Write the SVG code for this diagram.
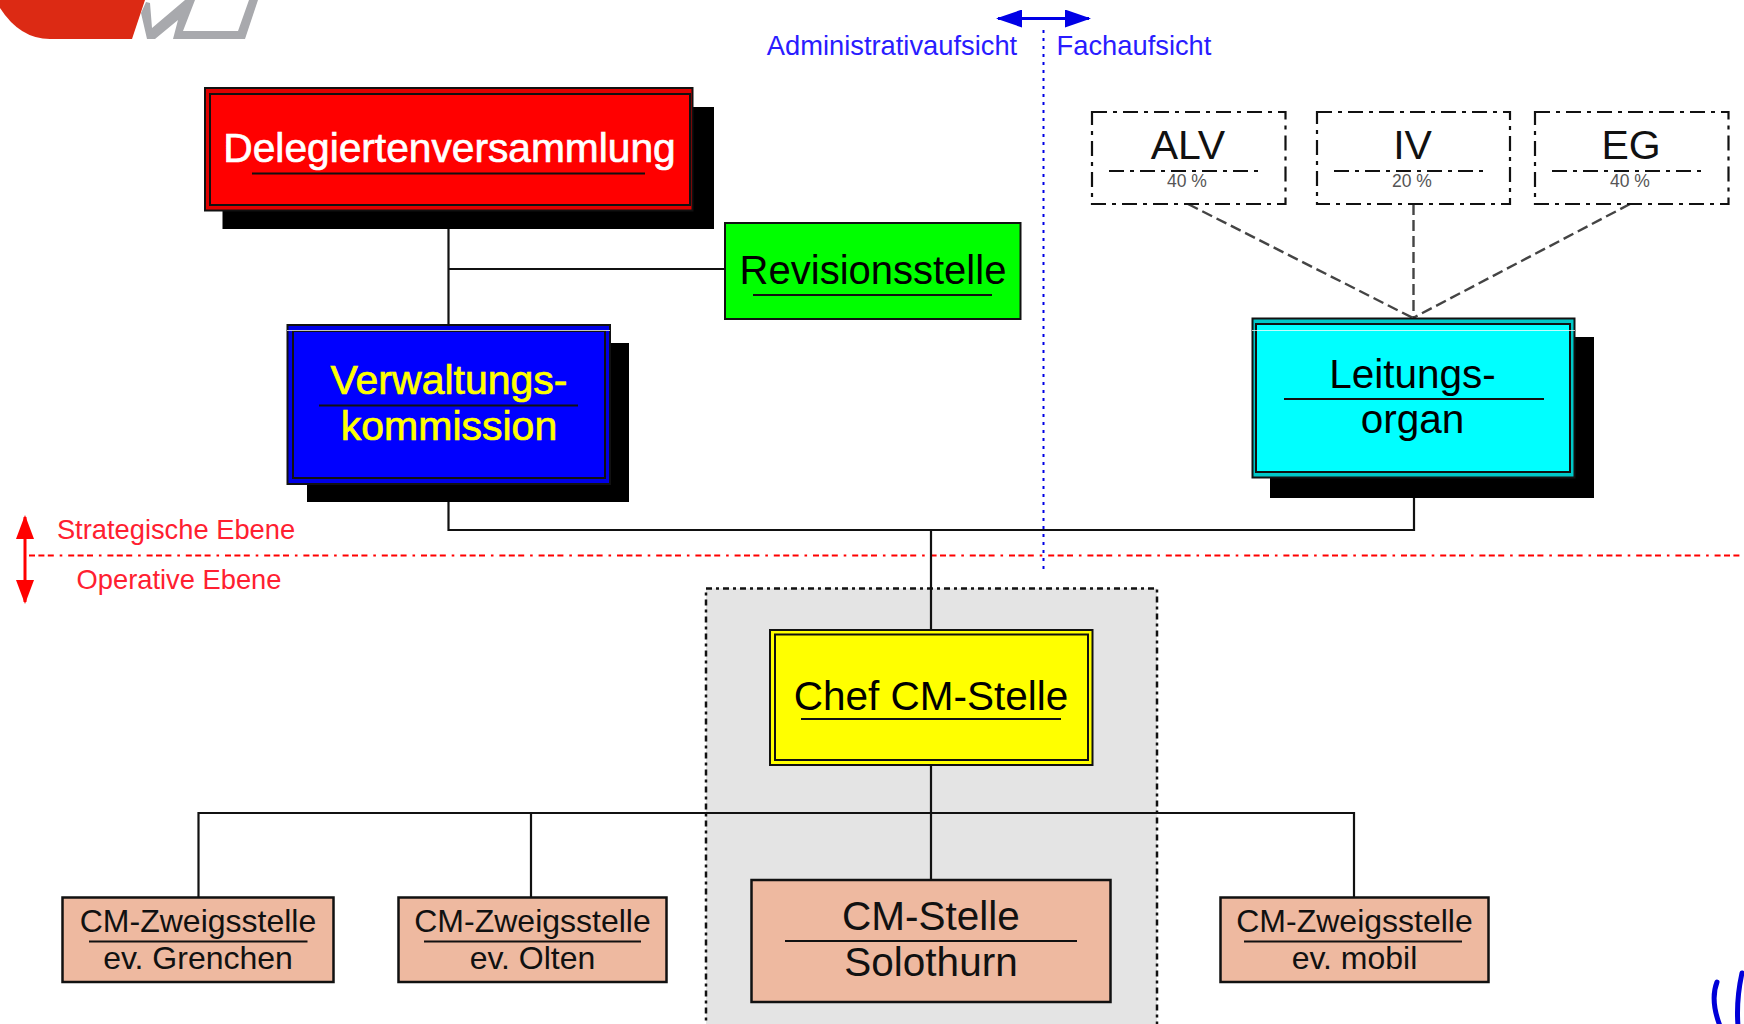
<svg xmlns="http://www.w3.org/2000/svg" width="1744" height="1024" viewBox="0 0 1744 1024">
<style>
text{font-family:"Liberation Sans",Arial,sans-serif;text-anchor:middle}
.t40{font-size:40.500px}
.t33{font-size:32px;fill:#111}
.t27{font-size:27.300px}
.t39{font-size:41px;fill:#111}
.pct{font-size:17.500px;fill:#555}
.blue{fill:#2a1cff}
.red{fill:#ff2030}
.line{stroke:#111;stroke-width:2.200;fill:none}
.frame{stroke:#111;stroke-width:2}
.inner{stroke:#111;stroke-width:2}
.rule{stroke:#111;stroke-width:2.200}
.shadow{fill:#000}
.dashdot{fill:#fff;stroke:#111;stroke-width:2.200;stroke-dasharray:15 6 4 6}
.ruledash{stroke:#111;stroke-width:2.200;stroke-dasharray:15 6 4 6}
.dash{stroke:#444;stroke-width:2.400;stroke-dasharray:11 5;fill:none}
.salmon{fill:#eeb9a0;stroke:#111;stroke-width:2.500}
.glint{stroke:#fff;stroke-width:1;opacity:.75}
.heavy-w{fill:#fff;stroke:#fff;stroke-width:.7}
.heavy-y{fill:#ffff00;stroke:#ffff00;stroke-width:.7}
</style>
<defs>
<marker id="bh" viewBox="0 0 26 18" refX="24" refY="9" markerWidth="26" markerHeight="18" markerUnits="userSpaceOnUse" orient="auto-start-reverse"><path d="M0 0L26 9L0 18Z" fill="#0000e6"/></marker>
<marker id="rh" viewBox="0 0 24 18" refX="22" refY="9" markerWidth="24" markerHeight="18" markerUnits="userSpaceOnUse" orient="auto-start-reverse"><path d="M0 0L24 9L0 18Z" fill="#ff0000"/></marker>
</defs>
<rect width="1744" height="1024" fill="#fff"/>
<g id="logo">
<path d="M0 8Q20 39 50 39L132 39L145 0L0 0Z" fill="#dc2a14"/>
<path d="M146 2L141 13L147 39L155 39L178 20L173 39L245 39L258 0L249 0L238 31L183 31L195 0L185 0L152 28L150 3Z" fill="#a8a9ad"/>
</g>
<rect id="gray-area" x="706" y="588.500" width="451" height="450" fill="#e4e4e4" stroke="#111" stroke-width="2.500" stroke-dasharray="6 4 3 4"/>
<g id="axes">
<line x1="1043.500" y1="30" x2="1043.500" y2="572" stroke="#0000e6" stroke-width="2" stroke-dasharray="3 5"/>
<line x1="29" y1="555.500" x2="1744" y2="555.500" stroke="#ff0000" stroke-width="2.200" stroke-dasharray="6 3.400 6 3.400 6 5.900 2.600 5.900"/>
<line x1="998" y1="18.500" x2="1089" y2="18.500" stroke="#0000e6" stroke-width="3" marker-start="url(#bh)" marker-end="url(#bh)"/>
<line x1="25" y1="517" x2="25" y2="602" stroke="#ff0000" stroke-width="3" marker-start="url(#rh)" marker-end="url(#rh)"/>
<text class="t27 blue" x="892" y="54.500">Administrativaufsicht</text>
<text class="t27 blue" x="1134" y="54.500">Fachaufsicht</text>
<text class="t27 red" x="176" y="539">Strategische Ebene</text>
<text class="t27 red" x="179" y="589">Operative Ebene</text>
</g>
<g id="connectors">
<path class="line" d="M448.500 229V325M448.500 269H725"/>
<path class="line" d="M448.500 502V530H1414V498M931 530V630M931 765V880"/>
<path class="line" d="M198.500 897V813H1354V897M531 813V897"/>
<path class="dash" d="M1188 204L1413 318M1413.500 204V318M1630 204L1413 318"/>
</g>
<g id="delegiertenversammlung">
<rect class="shadow" x="222.500" y="107" width="491.500" height="122"/>
<rect class="frame" x="205" y="88" width="487.500" height="122.500" fill="#e00000"/>
<rect class="inner" x="210" y="94" width="480" height="111" fill="#ff0000"/>
<text x="449.500" y="162" font-size="40.700" class="heavy-w">Delegiertenversammlung</text>
<line class="rule" x1="252" y1="173.500" x2="645" y2="173.500"/>
</g>
<g id="revisionsstelle">
<rect class="frame" x="725" y="223" width="295.500" height="96" fill="#00ff00"/>
<text x="873" y="283.500" font-size="40" fill="#000">Revisionsstelle</text>
<line class="rule" x1="753" y1="295" x2="992" y2="295"/>
</g>
<g id="verwaltungskommission">
<rect class="shadow" x="307" y="343" width="322" height="159"/>
<rect class="frame" x="287.500" y="325" width="322.500" height="159" fill="#0000e6"/>
<rect class="inner" x="293" y="331" width="312" height="147" fill="#0000ff"/>
<line class="glint" x1="287" y1="330.500" x2="610" y2="330.500"/>
<text x="449" y="394" font-size="41" class="heavy-y">Verwaltungs-</text>
<line class="rule" x1="319" y1="405.500" x2="578" y2="405.500"/>
<text x="449" y="440" font-size="41" class="heavy-y">kommission</text>
</g>
<g id="leitungsorgan">
<rect class="shadow" x="1270" y="337" width="324" height="161"/>
<rect class="frame" x="1252.500" y="318.500" width="322" height="159" fill="#00c8c8"/>
<rect class="inner" x="1256" y="324" width="314" height="148" fill="#00ffff"/>
<line class="glint" x1="1252" y1="330.500" x2="1575" y2="330.500"/>
<text class="t40" x="1412.500" y="388" fill="#000">Leitungs-</text>
<line class="rule" x1="1284" y1="399" x2="1544" y2="399"/>
<text class="t40" x="1412.500" y="433" fill="#000">organ</text>
</g>
<g id="alv">
<rect class="dashdot" x="1092" y="112" width="193.500" height="92"/>
<text class="t39" x="1188" y="159">ALV</text>
<line class="ruledash" x1="1109" y1="171" x2="1259" y2="171"/>
<text class="pct" x="1187" y="186.500">40 %</text>
</g>
<g id="iv">
<rect class="dashdot" x="1317" y="112" width="193" height="92"/>
<text class="t39" x="1412.500" y="159">IV</text>
<line class="ruledash" x1="1334" y1="171" x2="1484" y2="171"/>
<text class="pct" x="1412" y="186.500">20 %</text>
</g>
<g id="eg">
<rect class="dashdot" x="1535" y="112" width="193.500" height="92"/>
<text class="t39" x="1631" y="159">EG</text>
<line class="ruledash" x1="1552" y1="171" x2="1702" y2="171"/>
<text class="pct" x="1630" y="186.500">40 %</text>
</g>
<g id="chef">
<rect class="frame" x="770" y="630" width="322.500" height="135" fill="#ffff00"/>
<rect class="inner" x="775" y="634.500" width="313" height="125.500" fill="#ffff00"/>
<text class="t40" x="931" y="710" fill="#000">Chef CM-Stelle</text>
<line class="rule" x1="801" y1="719" x2="1061" y2="719"/>
</g>
<g id="solothurn">
<rect class="salmon" x="751.500" y="880" width="359" height="122"/>
<text class="t40" x="931" y="930" fill="#111">CM-Stelle</text>
<line class="rule" x1="785" y1="941" x2="1077" y2="941"/>
<text class="t40" x="931" y="975.500" fill="#111">Solothurn</text>
</g>
<g id="grenchen">
<rect class="salmon" x="62.500" y="897.500" width="271" height="84.500"/>
<text class="t33" x="198" y="932">CM-Zweigsstelle</text>
<line class="rule" x1="89" y1="941.500" x2="307.500" y2="941.500"/>
<text class="t33" x="198" y="969">ev. Grenchen</text>
</g>
<g id="olten">
<rect class="salmon" x="398.500" y="897.500" width="268" height="84.500"/>
<text class="t33" x="532.500" y="932">CM-Zweigsstelle</text>
<line class="rule" x1="424" y1="941.500" x2="641" y2="941.500"/>
<text class="t33" x="532.500" y="969">ev. Olten</text>
</g>
<g id="mobil">
<rect class="salmon" x="1220.500" y="897.500" width="268" height="84.500"/>
<text class="t33" x="1354.500" y="932">CM-Zweigsstelle</text>
<line class="rule" x1="1244" y1="941.500" x2="1462" y2="941.500"/>
<text class="t33" x="1354.500" y="969">ev. mobil</text>
</g>
<g id="marks" fill="none" stroke="#0000d8" stroke-width="5" stroke-linecap="round">
<path d="M1717 982Q1710 1000 1720 1026"/>
<path d="M1742 973Q1736 1000 1738 1026"/>
</g>
</svg>
